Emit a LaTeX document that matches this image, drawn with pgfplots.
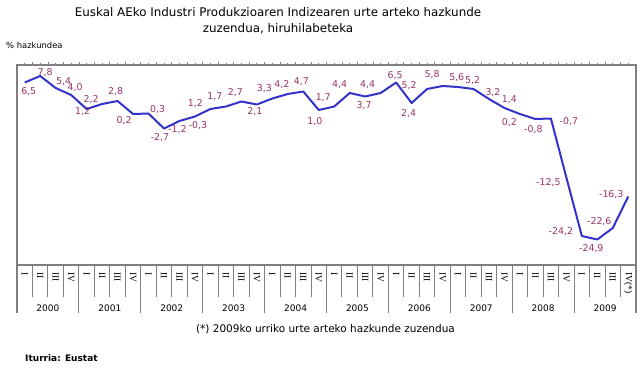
\documentclass[border=0pt]{standalone}
\usepackage{pgfplots}
\pgfplotsset{compat=1.18}
\usepackage{pgfplotstable}
\usepackage{fontspec}
\setmainfont{DejaVu Sans}
\newfontfamily\serifq{Liberation Serif}
\definecolor{linecol}{HTML}{3333CC}
\definecolor{labcol}{HTML}{993366}
\definecolor{axisgray}{HTML}{808080}

\pgfplotstableread{
idx y dx dy
0 6.5 4 -9
1 7.8 5 3.5
2 5.4 8 6
3 4.0 4 7
4 1.2 -4 -3
5 2.2 -11 4
6 2.8 -2 9
7 0.2 -9 -7
8 0.3 9 3.5
9 -2.7 -4 -9
10 -1.2 -2 -9
11 -0.3 3 -9.5
12 1.2 -15 5
13 1.7 -11 9.5
14 2.7 -6 8.5
15 2.1 -2 -7
16 3.3 -8 9.5
17 4.2 -6 9
18 4.7 -2 10
19 1.0 -4 -11.7
20 1.7 -11 8.5
21 4.4 -10 8
22 3.7 -1 -9
23 4.4 -13 8
24 6.5 -1 7
25 2.4 -3 -10.7
26 5.2 -18 3
27 5.8 -10.5 11.3
28 5.6 -1.3 9
29 5.2 -1 8
30 3.2 4 6.5
31 1.4 5 8
32 0.2 -10.5 -8.8
33 -0.8 -2 -10.5
34 -0.7 18 -3
35 -12.5 -18 -5.5
36 -24.2 -21 4
37 -24.9 -6 -9.5
38 -22.6 -13.5 6
39 -16.3 -17 2
}\data

\begin{document}
\begin{tikzpicture}
\useasboundingbox (0pt,0pt) rectangle (644pt,373pt);
\begin{axis}[
  at={(17pt,108pt)}, anchor=south west,
  scale only axis, width=619pt, height=200pt,
  xmin=-0.5, xmax=39.5, ymin=-30, ymax=10,
  axis line style={draw=axisgray, line width=1.2pt},
  ytick=\empty,
  xtick={0.5,1.5,...,38.5},
  minor xtick={0,1,...,39},
  xticklabel style={opacity=0, text opacity=0},
  xtick pos=right,
  tick align=outside,
  major tick length=3pt, minor tick length=1.6pt,
  every tick/.style={draw=axisgray, line width=0.8pt},
  clip=false,
]
\addplot[color=linecol, line width=2pt, line join=round, mark=none,
  point meta=\thisrow{y},
  visualization depends on={\thisrow{dx} \as \dx},
  visualization depends on={\thisrow{dy} \as \dy},
  nodes near coords={\pgfmathprintnumber[fixed,fixed zerofill,precision=1,use comma,assume math mode=true]{\pgfplotspointmeta}},
  nodes near coords style={anchor=center, xshift=\dx pt, yshift=\dy pt, text=labcol, inner sep=0pt,
    font=\fontsize{9.4}{11}\selectfont},
] table[x=idx, y=y] {\data};
\end{axis}

% separators below the axis
\foreach \k in {1,...,39} {
  \pgfmathsetmacro{\xs}{17+\k*15.475}
  \pgfmathtruncatemacro{\m}{mod(\k,4)}
  \ifnum\m=0
    \draw[axisgray, line width=1pt] (\xs pt,108pt) -- (\xs pt,60pt);
  \else
    \draw[axisgray, line width=1pt] (\xs pt,108pt) -- (\xs pt,76pt);
  \fi
}
\draw[axisgray, line width=1.2pt] (17pt,108pt) -- (17pt,60pt);
\draw[axisgray, line width=1.2pt] (636pt,108pt) -- (636pt,60pt);

% quarter labels
\foreach \k in {0,...,39} {
  \pgfmathsetmacro{\xc}{17+(\k+0.5)*15.475}
  \pgfmathtruncatemacro{\q}{mod(\k,4)}
  \node[rotate=-90, anchor=west, inner sep=0pt, font=\serifq\fontsize{9.5}{11}\selectfont]
    at (\xc pt,101pt) {\ifnum\k=39 IV(*)\else\ifcase\q I\or II\or III\or IV\fi\fi};
}
% year labels
\foreach \j/\yr in {0/2000,1/2001,2/2002,3/2003,4/2004,5/2005,6/2006,7/2007,8/2008,9/2009} {
  \pgfmathsetmacro{\xc}{17+(4*\j+2)*15.475}
  \node[font=\fontsize{9}{11}\selectfont, inner sep=0pt] at (\xc pt,65pt) {\yr};
}

% titles and notes
\node[align=center, font=\fontsize{11.9}{15.5}\selectfont, inner sep=0pt] at (278pt,352.3pt)
  {Euskal AEko Industri Produkzioaren Indizearen urte arteko hazkunde\\zuzendua, hiruhilabeteka};
\node[anchor=west, font=\fontsize{8.4}{10}\selectfont, inner sep=0pt] at (6pt,327.5pt) {\% hazkundea};
\node[font=\fontsize{10.5}{12}\selectfont, inner sep=0pt] at (325.5pt,44pt) {(*) 2009ko urriko urte arteko hazkunde zuzendua};
\node[anchor=west, font=\bfseries\fontsize{9}{11}\selectfont, inner sep=0pt] at (25pt,15pt) {Iturria: Eustat};
\end{tikzpicture}
\end{document}
